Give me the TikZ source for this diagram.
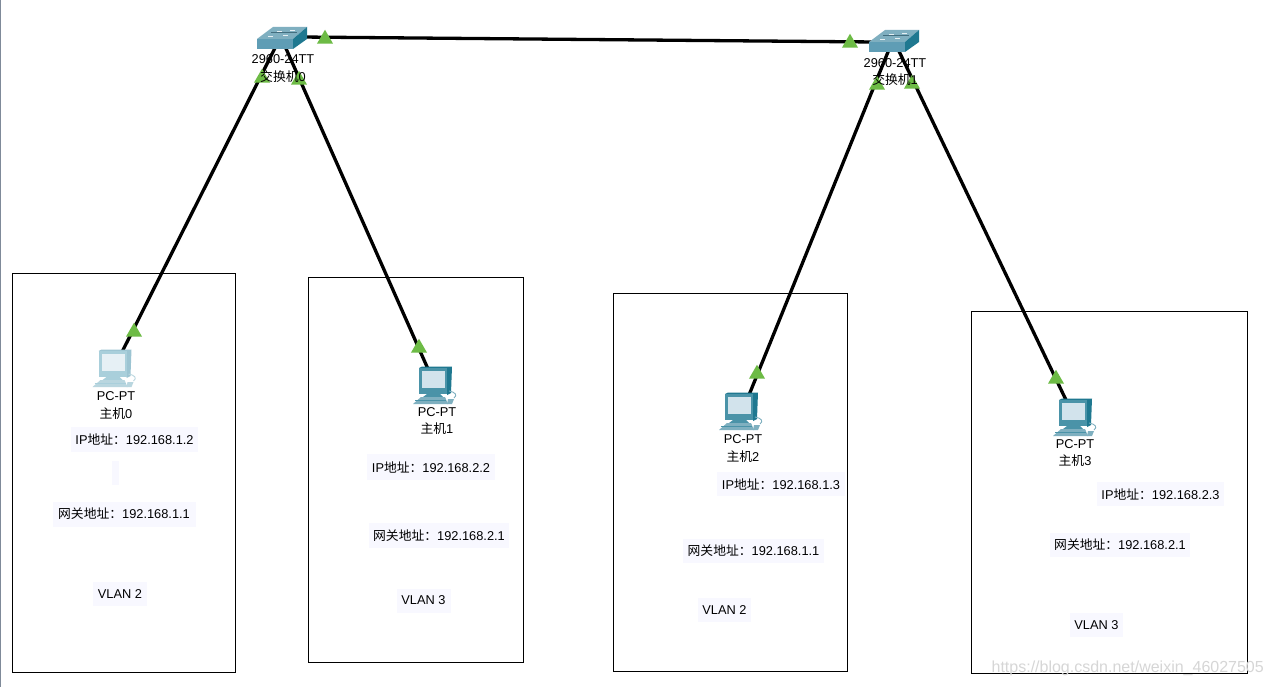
\documentclass[tikz,border=0pt]{standalone}
\usepackage{fontspec}
\setmainfont{Liberation Sans}
\newfontfamily\cjk{Noto Sans CJK SC}
\newcommand{\zh}[1]{{\cjk #1}}
\usetikzlibrary{shapes.geometric}
\definecolor{lavbg}{HTML}{F8F8FF}
\definecolor{tri}{HTML}{6DBB45}
\definecolor{stripc}{HTML}{7F8A99}
\definecolor{swtop}{HTML}{7FAFC0}
\definecolor{swfront}{HTML}{5F9DB5}
\definecolor{swside}{HTML}{1F7890}
\definecolor{pcframe}{HTML}{4A93A8}
\definecolor{pcside}{HTML}{1F7890}
\definecolor{pcscreen}{HTML}{D2E3EC}
\definecolor{pcbase}{HTML}{7FB0C0}
\definecolor{fdframe}{HTML}{A9CFDB}
\definecolor{fdside}{HTML}{9CC4D2}
\definecolor{fdscreen}{HTML}{E6F0F5}
\definecolor{fdbase}{HTML}{B9D6DF}
\tikzset{
  x=1pt,y=-1pt,
  link/.style={line width=3.3pt,black},
  vbox/.style={draw=black,line width=0.8pt,fill=none},
  lab/.style={font=\fontsize{12.8}{14}\selectfont,text=black,inner sep=0pt,align=center},
  bglab/.style={lab,fill=lavbg},
  mark tri/.style={regular polygon,regular polygon sides=3,fill=tri,draw=none,inner sep=0pt,minimum size=18.5pt},
  pics/pcicon/.style n args={4}{code={
    % monitor side, top and front
    \fill[#2] (0,0) -- (3,-1.5) -- (33,-1.5) -- (32,25) -- (28,27) -- (28,0) -- cycle;
    \fill[#1] (0,0) -- (28,0) -- (28,26) -- (0,26) -- cycle;
    \fill[#3] (3,3) -- (26,3) -- (26,20) -- (3,20) -- cycle;
    % stand
    \fill[#1] (8,26) -- (21,26) -- (24,29) -- (4,29) -- cycle;
    % base
    \fill[#4] (2,29) -- (26,29) -- (29,36) -- (-6,36) -- cycle;
    \draw[#1,line width=0.8pt] (-4,32) -- (27,32);
    % mouse cable
    \draw[#4,line width=0.9pt] (30,23) .. controls (36,24) and (39,27) .. (35,30);
    \fill[#4] (29,31) -- (35,31) -- (33,36) -- (28,36) -- cycle;
  }},
  pics/swicon/.style={code={
    \fill[swtop] (0,12) -- (16,0) -- (50,0) -- (36,12) -- cycle;
    \fill[swfront] (0,12) -- (36,12) -- (36,22) -- (0,22) -- cycle;
    \fill[swside] (36,12) -- (50,0) -- (50,12) -- (36,22) -- cycle;
    \fill[white!80!swtop] (20,4) rectangle (25,5.5);
    \fill[white!80!swtop] (33,3) rectangle (38,4.5);
    \fill[white!80!swtop] (11,9) rectangle (16,10.5);
    \fill[white!80!swtop] (26,8) rectangle (31,9.5);
    \draw[swfront!70!black,line width=0.5pt] (14,5) -- (40,5);
  }}
}
\begin{document}
\begin{tikzpicture}
\useasboundingbox (0,0) rectangle (1272,687);
\fill[white] (0,0) rectangle (1272,687);
\fill[stripc] (0,0) rectangle (1.2,687);

% VLAN boxes
\node[vbox,minimum width=223pt,minimum height=399pt,inner sep=0pt] (box0) at (123.5,472.5) {};
\node[vbox,minimum width=215pt,minimum height=385pt,inner sep=0pt] (box1) at (415.5,469.5) {};
\node[vbox,minimum width=234pt,minimum height=378pt,inner sep=0pt] (box2) at (730,482) {};
\node[vbox,minimum width=276pt,minimum height=362pt,inner sep=0pt] (box3) at (1109,492) {};

% connector end points
\coordinate (s0a) at (277,44);
\coordinate (s0b) at (284,44);
\coordinate (s0c) at (300,37);
\coordinate (s1c) at (875,42);
\coordinate (s1a) at (890,47);
\coordinate (s1b) at (897,47);
\coordinate (h0) at (122,352);
\coordinate (h1) at (428,369);
\coordinate (h2) at (749,395);
\coordinate (h3) at (1066,400);

\draw[link] (s0c) -- (s1c);
\draw[link] (s0a) -- (h0);
\draw[link] (s0b) -- (h1);
\draw[link] (s1a) -- (h2);
\draw[link] (s1b) -- (h3);

% devices
\pic at (257,27) {swicon};
\pic at (869,30) {swicon};
\pic at (98.5,351) {pcicon={fdframe}{fdside}{fdscreen}{fdbase}};
\pic at (419,368) {pcicon={pcframe}{pcside}{pcscreen}{pcbase}};
\pic at (725,394) {pcicon={pcframe}{pcside}{pcscreen}{pcbase}};
\pic at (1059,400) {pcicon={pcframe}{pcside}{pcscreen}{pcbase}};

% link-state markers
\foreach \n/\px/\py in {t1/262/78,t2/299/80,t3/325/39,t4/850/43,t5/877/85,t6/912/84,t7/134/332,t8/419/348,t9/757/374,t10/1056/379}
  \node[mark tri] (\n) at (\px,\py) {};

% device labels
\node[lab] (sw0a) at (283,59.5) {2960-24TT};
\node[lab] (sw0b) at (283,76.5) {\zh{交换机}0};
\node[lab] (sw1a) at (895,63.5) {2960-24TT};
\node[lab] (sw1b) at (895,79.5) {\zh{交换机}1};
\node[lab] (pc0a) at (116,396.5) {PC-PT};
\node[lab] (pc0b) at (116,413.5) {\zh{主机}0};
\node[lab] (pc1a) at (437,412.5) {PC-PT};
\node[lab] (pc1b) at (437,428.5) {\zh{主机}1};
\node[lab] (pc2a) at (743,439.5) {PC-PT};
\node[lab] (pc2b) at (743,456.5) {\zh{主机}2};
\node[lab] (pc3a) at (1075,444.5) {PC-PT};
\node[lab] (pc3b) at (1075,460.5) {\zh{主机}3};

% notes
\node[bglab,minimum width=127pt,minimum height=25pt] (ip0) at (134.5,439) {IP\zh{地址：}192.168.1.2};
\node[fill=lavbg,inner sep=0pt,minimum width=7pt,minimum height=24pt] (blank0) at (115.5,473) {};
\node[bglab,minimum width=143pt,minimum height=25pt] (gw0) at (124,514) {\zh{网关地址：}192.168.1.1};
\node[bglab,minimum width=54pt,minimum height=24pt] (vl0) at (120,594) {VLAN 2};

\node[bglab,minimum width=128pt,minimum height=26pt] (ip1) at (431,467) {IP\zh{地址：}192.168.2.2};
\node[bglab,minimum width=140pt,minimum height=25pt] (gw1) at (439,535.5) {\zh{网关地址：}192.168.2.1};
\node[bglab,minimum width=54pt,minimum height=24pt] (vl1) at (423.5,600.5) {VLAN 3};

\node[bglab,minimum width=128pt,minimum height=24pt] (ip2) at (781,484) {IP\zh{地址：}192.168.1.3};
\node[bglab,minimum width=141pt,minimum height=24pt] (gw2) at (753.5,551) {\zh{网关地址：}192.168.1.1};
\node[bglab,minimum width=53pt,minimum height=24pt] (vl2) at (724.5,610) {VLAN 2};

\node[bglab,minimum width=127pt,minimum height=24pt] (ip3) at (1160.5,494) {IP\zh{地址：}192.168.2.3};
\node[bglab,minimum width=140pt,minimum height=24pt] (gw3) at (1120,545) {\zh{网关地址：}192.168.2.1};
\node[bglab,minimum width=53pt,minimum height=24pt] (vl3) at (1096.5,625) {VLAN 3};

% watermark
\node[font=\fontsize{16}{18}\selectfont,text=black!16,inner sep=0pt,anchor=east] (wm) at (1264,668) {https://blog.csdn.net/weixin\_46027505};
\end{tikzpicture}
\end{document}
